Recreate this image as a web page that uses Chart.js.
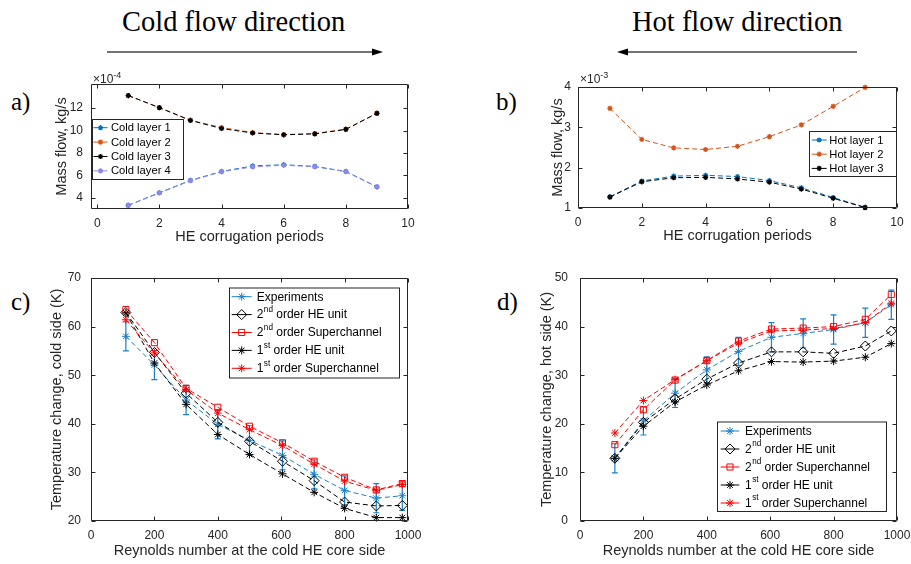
<!DOCTYPE html>
<html>
<head>
<meta charset="utf-8">
<script src="https://cdn.jsdelivr.net/npm/chart.js@4/dist/chart.umd.min.js"></script>
<style>
  body { margin: 0; width: 911px; height: 564px; background: #fff; position: relative; overflow: hidden; }
  canvas { position: absolute; left: 0; top: 0; }
  .lbl { position: absolute; white-space: nowrap; color: #000; }
  .serif { font-family: 'Liberation Serif', serif; }
  .expo { font-family: 'Liberation Sans', sans-serif; font-size: 12px; line-height: 12px; color: #262626; }
  .expo sup { font-size: 9px; vertical-align: 5px; line-height: 0; }
</style>
</head>
<body>
<svg width="911" height="564" style="position:absolute;left:0;top:0">
  <line x1="107" y1="52" x2="374" y2="52" stroke="#444" stroke-width="1.7"/>
  <polygon points="383,52 372,48.5 372,55.5" fill="#000"/>
  <line x1="626" y1="52" x2="857" y2="52" stroke="#444" stroke-width="1.7"/>
  <polygon points="617,52 628,48.5 628,55.5" fill="#000"/>
</svg>
<div class="lbl serif" style="left:122px;top:8px;font-size:28.5px;line-height:28.5px">Cold flow direction</div>
<div class="lbl serif" style="left:632px;top:8px;font-size:28.5px;line-height:28.5px">Hot flow direction</div>
<div class="lbl serif" style="left:11px;top:89px;font-size:25px;line-height:25px">a)</div>
<div class="lbl serif" style="left:496px;top:89px;font-size:25px;line-height:25px">b)</div>
<div class="lbl serif" style="left:11px;top:289px;font-size:25px;line-height:25px">c)</div>
<div class="lbl serif" style="left:497px;top:289px;font-size:25px;line-height:25px">d)</div>
<canvas id="chartA" width="911" height="564"></canvas>
<canvas id="chartB" width="911" height="564"></canvas>
<canvas id="chartC" width="911" height="564"></canvas>
<canvas id="chartD" width="911" height="564"></canvas>
<div class="lbl expo" style="left:93px;top:73px">&times;10<sup>-4</sup></div>
<div class="lbl expo" style="left:580px;top:73px">&times;10<sup>-3</sup></div>
<script>
// a) mass flow per cold layer (x 1e-4 kg/s)
var periods = [1, 2, 3, 4, 5, 6, 7, 8, 9];
var coldLayer1 = [3.32, 4.45, 5.55, 6.35, 6.84, 6.95, 6.80, 6.35, 4.98];
var coldLayer2 = [13.12, 12.05, 10.92, 10.27, 9.82, 9.64, 9.73, 10.12, 11.55];
var coldLayer3 = [13.12, 12.04, 10.90, 10.18, 9.78, 9.62, 9.70, 10.10, 11.53];
var coldLayer4 = [3.34, 4.43, 5.52, 6.32, 6.76, 6.90, 6.78, 6.33, 4.97];

// b) mass flow per hot layer (x 1e-3 kg/s)
var hotLayer1 = [1.28, 1.67, 1.79, 1.81, 1.78, 1.68, 1.50, 1.26, 1.02];
var hotLayer2 = [3.47, 2.70, 2.49, 2.45, 2.53, 2.77, 3.06, 3.52, 3.99];
var hotLayer3 = [1.27, 1.65, 1.75, 1.76, 1.72, 1.64, 1.47, 1.24, 1.01];

// c) and d) temperature change vs Reynolds number
var reynolds = [110, 200, 300, 400, 500, 604, 704, 800, 900, 982];
var expCold = [58.0, 52.1, 44.9, 39.9, 36.6, 33.5, 29.6, 26.3, 24.7, 25.2];
var expColdErr = [3, 3, 3, 3, 3, 3, 3, 3, 3, 3];
var unit2Cold = [62.9, 54.7, 46.3, 40.3, 36.4, 32.3, 28.3, 23.9, 23.1, 23.2];
var super2Cold = [63.5, 56.7, 47.3, 43.4, 39.5, 36.1, 32.3, 29.0, 26.4, 27.7];
var unit1Cold = [62.8, 52.5, 44.0, 37.8, 33.7, 29.7, 25.9, 22.6, 20.7, 20.7];
var super1Cold = [61.4, 54.6, 47.0, 42.2, 38.8, 35.5, 31.7, 28.2, 26.3, 27.5];

var expHot = [12.9, 20.6, 26.3, 31.1, 34.9, 37.8, 38.6, 39.4, 40.8, 44.5];
var expHotErr = [3, 2.9, 2.95, 2.7, 2.9, 3, 3, 3, 3, 3];
var unit2Hot = [12.9, 20.3, 25.1, 29.2, 32.5, 34.8, 34.8, 34.5, 36.0, 39.1];
var super2Hot = [15.7, 22.9, 29.0, 33.0, 37.0, 39.5, 39.7, 40.0, 41.5, 46.6];
var unit1Hot = [12.9, 19.5, 24.5, 28.0, 30.9, 32.8, 32.7, 32.9, 33.7, 36.5];
var super1Hot = [18.1, 24.8, 29.1, 33.0, 36.6, 39.1, 39.3, 39.6, 40.8, 44.8];

// tick labels
var periodTicks = [0, 2, 4, 6, 8, 10];
var coldFlowTicks = [4, 6, 8, 10, 12];
var hotFlowTicks = [1, 2, 3, 4];
var reynoldsTicks = [0, 200, 400, 600, 800, 1000];
var coldTempTicks = [20, 30, 40, 50, 60, 70];
var hotTempTicks = [0, 10, 20, 30, 40, 50];

var axisColor = '#262626';
var blue = '#0072BD', orange = '#D95319', lilac = '#8c86f0';
var expBlue = '#1b80c8';

function pts(xs, ys) {
  return xs.map(function(x, i) { return {x: x, y: ys[i]}; });
}

// error bars under everything
var errorBars = {
  id: 'errorBars',
  beforeDatasetsDraw: function(chart) {
    var ctx = chart.ctx, xs = chart.scales.x, ys = chart.scales.y;
    chart.data.datasets.forEach(function(ds) {
      if (!ds.errors) return;
      ctx.save();
      ctx.strokeStyle = ds.borderColor;
      ctx.lineWidth = 1.2;
      ctx.beginPath();
      ds.data.forEach(function(p, i) {
        var px = xs.getPixelForValue(p.x);
        var y0 = ys.getPixelForValue(p.y - ds.errors[i]);
        var y1 = ys.getPixelForValue(p.y + ds.errors[i]);
        ctx.moveTo(px, y0); ctx.lineTo(px, y1);
        ctx.moveTo(px - 3, y0); ctx.lineTo(px + 3, y0);
        ctx.moveTo(px - 3, y1); ctx.lineTo(px + 3, y1);
      });
      ctx.stroke();
      ctx.restore();
    });
  }
};

// matlab style box with inward ticks
var matlabBox = {
  id: 'matlabBox',
  afterDatasetsDraw: function(chart) {
    var ctx = chart.ctx, a = chart.chartArea, xs = chart.scales.x, ys = chart.scales.y;
    var l = Math.round(a.left) + 0.5, r = Math.round(a.right) - 0.5;
    var t = Math.round(a.top) + 0.5, b = Math.round(a.bottom) - 0.5;
    ctx.save();
    ctx.strokeStyle = axisColor;
    ctx.lineWidth = 1;
    ctx.beginPath();
    ctx.rect(l, t, r - l, b - t);
    xs.ticks.forEach(function(tk) {
      var px = Math.round(xs.getPixelForValue(tk.value)) + 0.5;
      ctx.moveTo(px, b); ctx.lineTo(px, b - 4);
      ctx.moveTo(px, t); ctx.lineTo(px, t + 4);
    });
    ys.ticks.forEach(function(tk) {
      var py = Math.round(ys.getPixelForValue(tk.value)) + 0.5;
      ctx.moveTo(l, py); ctx.lineTo(l + 4, py);
      ctx.moveTo(r, py); ctx.lineTo(r - 4, py);
    });
    ctx.stroke();
    ctx.restore();
  }
};

// legend box placed inside the axes, with ^{sup} support
var boxLegend = {
  id: 'boxLegend',
  afterDraw: function(chart) {
    var o = chart.config.options.legendBox;
    if (!o) return;
    var ctx = chart.ctx;
    ctx.save();
    ctx.fillStyle = '#fff';
    ctx.strokeStyle = axisColor;
    ctx.lineWidth = 1;
    ctx.fillRect(o.x, o.y, o.w, o.h);
    ctx.strokeRect(o.x + 0.5, o.y + 0.5, o.w, o.h);
    chart.data.datasets.forEach(function(ds, i) {
      var cy = o.row0 + i * o.rowH;
      ctx.strokeStyle = ds.borderColor;
      ctx.lineWidth = 1;
      ctx.setLineDash([]);
      ctx.beginPath();
      ctx.moveTo(o.s0, cy); ctx.lineTo(o.s1, cy);
      ctx.stroke();
      ctx.fillStyle = ds.pointBackgroundColor || ds.borderColor;
      ctx.strokeStyle = ds.pointBorderColor || ds.borderColor;
      ctx.lineWidth = ds.pointBorderWidth || 1;
      Chart.helpers.drawPoint(ctx, {pointStyle: ds.pointStyle, radius: ds.pointRadius, rotation: 0, borderWidth: ds.pointBorderWidth || 1}, (o.s0 + o.s1) / 2, cy);
      // label text
      ctx.fillStyle = '#000';
      ctx.textBaseline = 'middle';
      ctx.textAlign = 'left';
      var x = o.tx;
      var parts = ds.label.split(/\^\{([^}]*)\}/);
      parts.forEach(function(part, k) {
        if (!part) return;
        if (k % 2 === 1) {
          ctx.font = (o.font * 0.68) + 'px "Liberation Sans"';
          ctx.fillText(part, x + 0.5, cy - o.font * 0.42);
          x += ctx.measureText(part).width + 0.5;
        } else {
          ctx.font = o.font + 'px "Liberation Sans"';
          ctx.fillText(part, x, cy + 0.5);
          x += ctx.measureText(part).width;
        }
      });
    });
    ctx.restore();
  }
};

function makeChart(id, c) {
  var tickFont = {family: 'Liberation Sans', size: 12};
  var titleFont = {family: 'Liberation Sans', size: 14.5};
  c.datasets.forEach(function(ds, i) {
    ds.order = c.datasets.length - i;
    ds.showLine = true;
    ds.clip = false;
    ds.borderWidth = 1;
    if (ds.borderDash === undefined) ds.borderDash = [5, 3];
  });
  return new Chart(document.getElementById(id), {
    type: 'scatter',
    data: {datasets: c.datasets},
    options: {
      responsive: false,
      animation: false,
      devicePixelRatio: 1,
      layout: {padding: {left: c.area.l - c.yW, top: c.area.t, right: 911 - c.area.r, bottom: 564 - c.area.b - c.xH}},
      plugins: {legend: {display: false}, tooltip: {enabled: false}},
      legendBox: c.legend,
      scales: {
        x: {
          type: 'linear', min: c.xMin, max: c.xMax,
          afterBuildTicks: function(s) { s.ticks = c.xTicks.map(function(v) { return {value: v}; }); },
          afterFit: function(s) { s.height = c.xH; s.paddingLeft = 0; s.paddingRight = 0; },
          grid: {display: false, drawTicks: false},
          border: {display: false},
          ticks: {font: tickFont, color: axisColor, padding: c.xPad, maxRotation: 0, autoSkip: false,
                  callback: function(v) { return String(v); }},
          title: {display: true, text: c.xTitle, font: titleFont, color: axisColor, padding: 0}
        },
        y: {
          type: 'linear', min: c.yMin, max: c.yMax,
          afterBuildTicks: function(s) { s.ticks = c.yTicks.map(function(v) { return {value: v}; }); },
          afterFit: function(s) { s.width = c.yW; s.paddingTop = 0; s.paddingBottom = 0; },
          grid: {display: false, drawTicks: false},
          border: {display: false},
          ticks: {font: tickFont, color: axisColor, padding: c.yPad, autoSkip: false,
                  callback: function(v) { return String(v); }},
          title: {display: true, text: c.yTitle, font: titleFont, color: axisColor, padding: 0}
        }
      }
    },
    plugins: [errorBars, matlabBox, boxLegend]
  });
}

function smallSeries(label, color, ys) {
  return {label: label, data: pts(periods, ys), borderColor: color, backgroundColor: color,
          pointBackgroundColor: color, pointBorderColor: color, pointStyle: 'star', pointRadius: 2.6, pointBorderWidth: 1.3};
}

function tempSeries(label, color, ys, style, errs) {
  var ds = {label: label, data: pts(reynolds, ys), borderColor: color, backgroundColor: color,
            pointBorderColor: color, pointStyle: style, pointBorderWidth: 1};
  if (style === 'star') { ds.pointRadius = 4; ds.pointBackgroundColor = color; }
  else if (style === 'rectRot') { ds.pointRadius = 5; ds.pointBackgroundColor = 'rgba(255,255,255,0)'; }
  else { ds.pointRadius = 4.3; ds.pointBackgroundColor = 'rgba(255,255,255,0)'; }
  if (errs) ds.errors = errs;
  return ds;
}

makeChart('chartA', {
  area: {l: 91, t: 84, r: 408, b: 209}, yW: 38, xH: 36.5, xPad: 7, yPad: 8,
  xMin: -0.2, xMax: 10, xTicks: periodTicks, yMin: 3, yMax: 14.15, yTicks: coldFlowTicks,
  xTitle: 'HE corrugation periods', yTitle: 'Mass flow, kg/s',
  datasets: [
    smallSeries('Cold layer 1', blue, coldLayer1),
    smallSeries('Cold layer 2', orange, coldLayer2),
    smallSeries('Cold layer 3', '#000', coldLayer3),
    smallSeries('Cold layer 4', lilac, coldLayer4)
  ],
  legend: {x: 92, y: 119, w: 91, h: 60, row0: 127.7, rowH: 14.4, s0: 93.5, s1: 107.5, tx: 111, font: 11.2}
});

makeChart('chartB', {
  area: {l: 578, t: 87, r: 897, b: 208}, yW: 29, xH: 37, xPad: 7, yPad: 7,
  xMin: 0, xMax: 10, xTicks: periodTicks, yMin: 1, yMax: 4, yTicks: hotFlowTicks,
  xTitle: 'HE corrugation periods', yTitle: 'Mass flow, kg/s',
  datasets: [
    smallSeries('Hot layer 1', blue, hotLayer1),
    smallSeries('Hot layer 2', orange, hotLayer2),
    smallSeries('Hot layer 3', '#000', hotLayer3)
  ],
  legend: {x: 809, y: 131, w: 87, h: 45, row0: 140, rowH: 14.2, s0: 811.7, s1: 826.7, tx: 829.3, font: 11.2}
});

makeChart('chartC', {
  area: {l: 91, t: 278, r: 408, b: 521}, yW: 42.5, xH: 38.5, xPad: 7, yPad: 10,
  xMin: 0, xMax: 1000, xTicks: reynoldsTicks, yMin: 20, yMax: 70, yTicks: coldTempTicks,
  xTitle: 'Reynolds number at the cold HE core side', yTitle: 'Temperature change, cold side (K)',
  datasets: [
    tempSeries('Experiments', expBlue, expCold, 'star', expColdErr),
    tempSeries('2^{nd} order HE unit', '#000', unit2Cold, 'rectRot'),
    tempSeries('2^{nd} order Superchannel', '#ff0000', super2Cold, 'rect'),
    tempSeries('1^{st} order HE unit', '#000', unit1Cold, 'star'),
    tempSeries('1^{st} order Superchannel', '#ff0000', super1Cold, 'star')
  ],
  legend: {x: 229, y: 287.5, w: 170, h: 90, row0: 296.7, rowH: 17.9, s0: 231.7, s1: 251.7, tx: 256.7, font: 12}
});

makeChart('chartD', {
  area: {l: 580, t: 278, r: 897, b: 521}, yW: 42, xH: 38.5, xPad: 7, yPad: 12,
  xMin: 0, xMax: 1000, xTicks: reynoldsTicks, yMin: 0, yMax: 50, yTicks: hotTempTicks,
  xTitle: 'Reynolds number at the cold HE core side', yTitle: 'Temperature change, hot side (K)',
  datasets: [
    tempSeries('Experiments', expBlue, expHot, 'star', expHotErr),
    tempSeries('2^{nd} order HE unit', '#000', unit2Hot, 'rectRot'),
    tempSeries('2^{nd} order Superchannel', '#ff0000', super2Hot, 'rect'),
    tempSeries('1^{st} order HE unit', '#000', unit1Hot, 'star'),
    tempSeries('1^{st} order Superchannel', '#ff0000', super1Hot, 'star')
  ],
  legend: {x: 717, y: 421.5, w: 169, h: 89.5, row0: 431, rowH: 18, s0: 720.7, s1: 739.3, tx: 745, font: 12}
});
</script>
</body>
</html>
